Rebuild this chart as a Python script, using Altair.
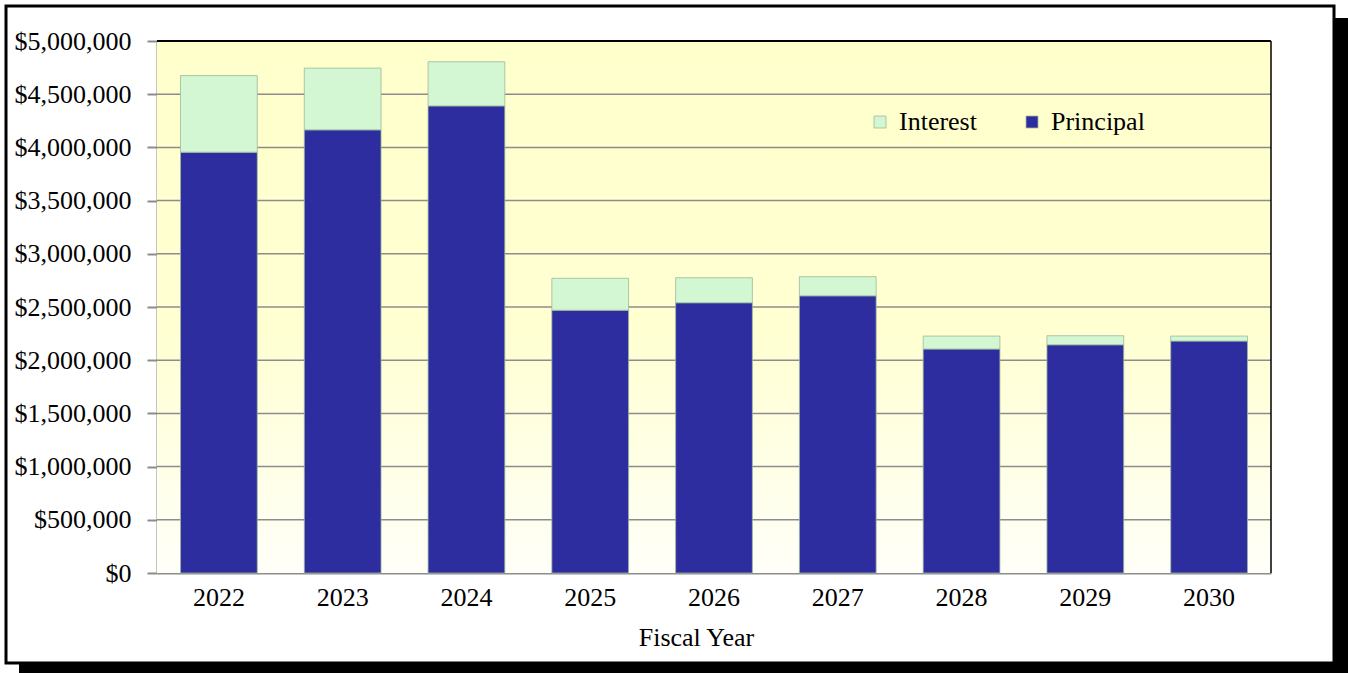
import altair as alt
import pandas as pd

years = ["2022", "2023", "2024", "2025", "2026", "2027", "2028", "2029", "2030"]
principal = [3955000, 4165000, 4390000, 2470000, 2540000, 2605000, 2105000, 2145000, 2180000]
interest = [720000, 580000, 415000, 300000, 235000, 180000, 122000, 85000, 47000]
y_ticks = [0, 500000, 1000000, 1500000, 2000000, 2500000, 3000000, 3500000, 4000000, 4500000, 5000000]
series = ["Interest", "Principal"]
colors = ["#D2F7D2", "#2D2DA0"]

W, H = 1114, 532
PL, PT = 157, 41

rows = []
for i, y in enumerate(years):
    rows.append({"Year": y, "Type": "Principal", "Amount": principal[i], "ord": 0})
    rows.append({"Year": y, "Type": "Interest", "Amount": interest[i], "ord": 1})
df = pd.DataFrame(rows)

yscale = alt.Scale(domain=[0, 5000000], nice=False, zero=True)
FONT = "Liberation Serif"

yaxis = alt.Axis(title=None, values=y_ticks, format="$,.0f", grid=False,
                 tickSize=10, tickColor="#8C8C8C", tickWidth=2,
                 domainColor="#8C8C8C", domainWidth=2,
                 labelFont=FONT, labelFontSize=26, labelColor="black",
                 labelPadding=16)

bg = alt.Chart(alt.Data(values=[{}])).mark_rect(
    fill=alt.LinearGradient(
        gradient="linear", x1=0, x2=0, y1=0, y2=1,
        stops=[alt.GradientStop(offset=0, color="#FFFFCC"),
               alt.GradientStop(offset=0.55, color="#FFFFD2"),
               alt.GradientStop(offset=1, color="#FFFFF8")]),
).encode(x=alt.value(0), x2=alt.value(W), y=alt.value(0), y2=alt.value(H))

grid = alt.Chart(pd.DataFrame({"v": y_ticks[1:]})).mark_rule(
    color="#8C8C8C", strokeWidth=1.5
).encode(y=alt.Y("v:Q", scale=yscale, axis=yaxis))

bars = alt.Chart(df).mark_bar(stroke="#9DB89D", strokeWidth=0.8, strokeOpacity=1).encode(
    x=alt.X("Year:O", sort=years,
            scale=alt.Scale(paddingInner=0.38, paddingOuter=0.19),
            axis=alt.Axis(title="Fiscal Year", labelAngle=0, ticks=False,
                          domainColor="#8C8C8C", domainWidth=2,
                          labelFont=FONT, labelFontSize=26, labelColor="black",
                          labelPadding=11, titleFont=FONT, titleFontSize=26,
                          titleFontWeight="normal", titleColor="black", titlePadding=14,
                          titleX=539)),
    y=alt.Y("sum(Amount):Q", scale=yscale, stack="zero", axis=yaxis),
    color=alt.Color("Type:N", scale=alt.Scale(domain=series, range=colors),
                    legend=alt.Legend(title=None, orient="none", legendX=710, legendY=68,
                                      direction="horizontal", symbolType="square",
                                      symbolSize=144, symbolStrokeWidth=0.8,
                                      labelFont=FONT, labelFontSize=26, labelColor="black",
                                      labelOffset=6, columnPadding=42)),
    order=alt.Order("ord:Q"),
)

top_rule = alt.Chart(alt.Data(values=[{}])).mark_rule(color="black", strokeWidth=2).encode(
    x=alt.value(0), x2=alt.value(W), y=alt.value(0))
right_rule = alt.Chart(alt.Data(values=[{}])).mark_rule(color="black", strokeWidth=1.5).encode(
    x=alt.value(W), y=alt.value(0), y2=alt.value(H))

frame = alt.Chart(alt.Data(values=[{}])).mark_rect(
    fill=None, stroke="black", strokeWidth=3
).encode(x=alt.value(6 - PL), x2=alt.value(1334 - PL), y=alt.value(6 - PT), y2=alt.value(663 - PT))
shadow_r = alt.Chart(alt.Data(values=[{}])).mark_rect(fill="black").encode(
    x=alt.value(1335 - PL), x2=alt.value(1348 - PL), y=alt.value(18 - PT), y2=alt.value(673 - PT))
shadow_b = alt.Chart(alt.Data(values=[{}])).mark_rect(fill="black").encode(
    x=alt.value(19 - PL), x2=alt.value(1348 - PL), y=alt.value(664 - PT), y2=alt.value(673 - PT))

chart = alt.layer(bg, grid, bars, top_rule, right_rule, frame, shadow_r, shadow_b).properties(
    width=W, height=H,
    autosize=alt.AutoSizeParams(type="none"),
    padding={"left": PL, "top": PT, "right": 1348 - PL - W, "bottom": 673 - PT - H},
    background="white",
).configure_view(stroke=None)

chart.save("out.html", embed_options={"renderer": "svg", "actions": False})
